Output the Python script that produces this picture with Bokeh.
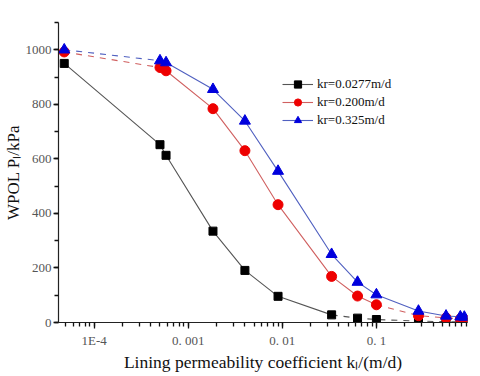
from bokeh.plotting import figure
from bokeh.models import LogTicker, SingleIntervalTicker, Legend, LegendItem, Range1d
from bokeh.embed import file_html
from bokeh.resources import INLINE

# Data
kl = [4.8e-5, 5.0e-4, 5.8e-4, 1.83e-3, 4.0e-3, 9.0e-3, 0.0334, 0.063, 0.1, 0.28, 0.55, 0.78, 0.86]
p_k0277 = [950, 652, 613, 335, 191, 96, 28, 16, 11, 5, 3, 2, 2]
p_k200 = [992, 935, 923, 784, 630, 432, 169, 97, 65, 25, 17, 13, 12]
p_k325 = [1000, 960, 953, 855, 739, 555, 250, 148, 102, 42, 24, 21, 20]
series_labels = ["kr=0.0277m/d", "kr=0.200m/d", "kr=0.325m/d"]
x_ticks = [1e-4, 1e-3, 1e-2, 1e-1]
x_tick_labels = ["1E-4", "0. 001", "0. 01", "0. 1"]

FONT = "Liberation Serif"

p = figure(frame_width=409, frame_height=300, x_axis_type="log", output_backend="svg",
           toolbar_location=None, min_border_left=53, min_border_right=2,
           min_border_top=22, min_border_bottom=46)
p.x_range = Range1d(4.17e-5, 0.93)
p.y_range = Range1d(0, 1100)
p.outline_line_color = None
p.grid.visible = False
p.background_fill_color = "white"

p.xaxis.ticker = LogTicker(desired_num_ticks=5, num_minor_ticks=10)
p.xaxis.major_label_overrides = {t: l for t, l in zip(x_ticks, x_tick_labels)}
p.yaxis.ticker = SingleIntervalTicker(interval=200, num_minor_ticks=2)

for ax in [p.xaxis[0], p.yaxis[0]]:
    ax.axis_line_color = "#222222"
    ax.axis_line_width = 1.2
    ax.major_tick_in = 0
    ax.major_tick_out = 6
    ax.minor_tick_in = 0
    ax.minor_tick_out = 4
    ax.major_tick_line_color = "#111111"
    ax.minor_tick_line_color = "#111111"
    ax.major_tick_line_width = 1.3
    ax.minor_tick_line_width = 1.3
    ax.major_label_text_font = FONT
    ax.major_label_text_font_size = "13px"
    ax.major_label_text_color = "#555555"
    ax.axis_label_text_font = FONT
    ax.axis_label_text_font_style = "normal"
    ax.axis_label_text_color = "#111111"

p.xaxis.axis_label = "Lining permeability coefficient kₗ/(m/d)"
p.yaxis.axis_label = "WPOL Pₗ/kPa"
p.xaxis.axis_label_text_font_size = "17.5px"
p.yaxis.axis_label_text_font_size = "17px"
p.xaxis.major_label_standoff = 4
p.xaxis.axis_label_standoff = 1
p.yaxis.major_tick_out = 5
p.yaxis.major_label_standoff = 2
p.yaxis.axis_label_standoff = 0

specs = [
    (p_k0277, "#555555", "#000000", "square", 8, [(0, 6, "solid"), (6, 13, "dashed")]),
    (p_k200, "#d06060", "#ee0000", "circle", 10, [(0, 1, "dashed"), (1, 8, "solid"), (8, 13, "dashed")]),
    (p_k325, "#5060c0", "#0000dd", "triangle", 11, [(0, 1, "dashed"), (1, 13, "solid")]),
]

items = []
for (vals, lc, mc, marker, size, segs), label in zip(specs, series_labels):
    legend_line = None
    for a, b, dash in segs:
        r = p.line(kl[a:b + 1], vals[a:b + 1], line_color=lc, line_width=1.1,
                   line_dash=dash)
        if dash == "solid" and legend_line is None:
            legend_line = r
    sr = p.scatter(kl, vals, marker=marker, size=size, fill_color=mc, line_color=mc)
    items.append(LegendItem(label=label, renderers=[legend_line, sr]))

legend = Legend(items=items, location=(224, 193), padding=0, margin=0, spacing=0,
                glyph_width=31, glyph_height=18, label_height=18, label_standoff=4,
                label_text_font=FONT, label_text_font_size="13px",
                label_text_color="#111111",
                border_line_color=None, background_fill_alpha=0)
p.add_layout(legend)

open("out.html", "w").write(file_html(p, INLINE))
